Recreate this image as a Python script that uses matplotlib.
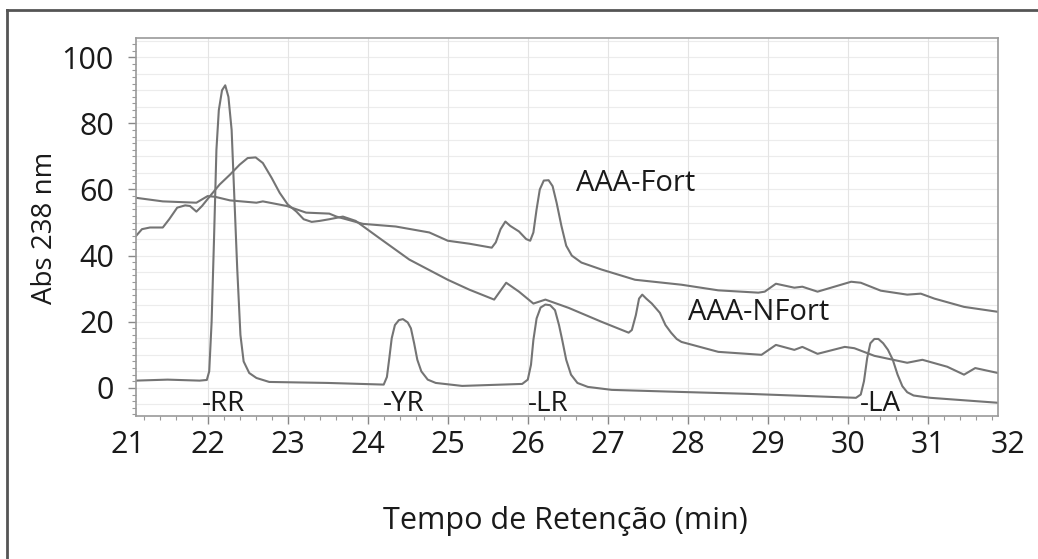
import numpy as np
import matplotlib.pyplot as plt
from matplotlib.ticker import MultipleLocator
from matplotlib.lines import Line2D

plt.rcParams['font.family'] = ['Open Sans', 'DejaVu Sans']

# padrões de microcistinas (RR, YR, LR, LA)
x_padrao = [21.1, 21.5, 21.9, 21.99, 22.02, 22.05, 22.08, 22.11, 22.14, 22.18, 22.22, 22.26,
            22.3, 22.33, 22.37, 22.41, 22.45, 22.52, 22.61, 22.77, 23.5, 24.2, 24.24, 24.27,
            24.3, 24.34, 24.39, 24.44, 24.5, 24.54, 24.58, 24.62, 24.67, 24.75, 24.85, 25.18,
            25.93, 26.0, 26.04, 26.07, 26.11, 26.16, 26.22, 26.28, 26.34, 26.39, 26.43, 26.48,
            26.54, 26.62, 26.75, 27.05, 27.88, 28.75, 30.1, 30.16, 30.2, 30.24, 30.28, 30.33,
            30.38, 30.44, 30.5, 30.56, 30.62, 30.68, 30.74, 30.82, 31.03, 31.875]
y_padrao = [2.2, 2.5, 2.2, 2.4, 5, 20, 45, 72, 84, 90, 91.5, 88,
            78, 60, 36, 16, 8, 4.5, 3, 1.8, 1.5, 1, 3.3, 9,
            15, 19, 20.5, 20.8, 19.8, 18, 13.5, 8.5, 5, 2.5, 1.5, 0.6,
            1.2, 2.5, 7, 14.5, 21, 24.3, 25.2, 25, 23.5, 19, 14.5, 8.5,
            4, 1.5, 0.3, -0.6, -1.2, -1.8, -3, -2, 2, 9, 13.5, 14.8,
            14.8, 13.5, 11.5, 8.5, 4, 0.5, -1.3, -2.3, -3, -4.5]

# amostra AAA-Fort
x_fort = [21.1, 21.44, 21.86, 22.0, 22.09, 22.28, 22.61, 22.69, 22.99, 23.23, 23.52, 23.61,
          23.94, 24.35, 24.77, 25.0, 25.27, 25.55, 25.6, 25.66, 25.72, 25.78, 25.89, 25.98,
          26.03, 26.07, 26.11, 26.15, 26.2, 26.26, 26.31, 26.36, 26.42, 26.48, 26.55, 26.67,
          26.92, 27.34, 27.92, 28.38, 28.88, 28.96, 29.1, 29.33, 29.43, 29.62, 29.83, 30.04,
          30.16, 30.41, 30.74, 30.91, 31.08, 31.45, 31.875]
y_fort = [57.5, 56.4, 56, 58, 57.8, 56.7, 56, 56.4, 55, 53, 52.7, 51.8,
          49.6, 48.8, 47, 44.5, 43.6, 42.4, 44, 48, 50.3, 49, 47.3, 45,
          44.5, 47, 54, 60, 62.7, 62.8, 61, 56, 49, 43, 40, 37.9,
          35.8, 32.7, 31.2, 29.5, 28.8, 29.1, 31.5, 30.3, 30.6, 29.1, 30.6, 32.1,
          31.8, 29.4, 28.2, 28.5, 27, 24.5, 23]

# amostra AAA-NFort
x_nfort = [21.1, 21.18, 21.28, 21.44, 21.52, 21.62, 21.72, 21.78, 21.86, 21.93, 22.03, 22.15,
           22.28, 22.4, 22.5, 22.6, 22.69, 22.8, 22.9, 23.0, 23.11, 23.2, 23.3, 23.4,
           23.52, 23.69, 23.85, 24.14, 24.52, 25.0, 25.27, 25.58, 25.73, 25.89, 26.07, 26.22,
           26.51, 26.92, 27.26, 27.3, 27.35, 27.39, 27.43, 27.48, 27.55, 27.65, 27.72, 27.79,
           27.86, 27.92, 28.38, 28.92, 29.1, 29.33, 29.43, 29.62, 29.96, 30.08, 30.33, 30.74,
           30.93, 31.24, 31.45, 31.59, 31.875]
y_nfort = [45.8, 48, 48.5, 48.5, 51, 54.5, 55.2, 55, 53.3, 55, 58, 61.5,
           64.5, 67.5, 69.5, 69.7, 68, 63.5, 59, 55.5, 53.3, 51, 50.2, 50.5,
           51, 51.8, 50.5, 45.4, 38.8, 32.7, 29.7, 26.7, 31.8, 29.1, 25.5, 26.7,
           24.2, 20, 16.7, 17.5, 22, 27, 28.2, 27, 25.5, 22.7, 19, 16.7,
           14.8, 13.9, 10.9, 10, 13, 11.5, 12.4, 10.3, 12.4, 12, 9.7, 7.6,
           8.5, 6.4, 4, 6, 4.5]

rotulos_picos = ['-RR', '-YR', '-LR', '-LA']
pos_picos = [22.2, 24.45, 26.25, 30.4]

cor = '#747474'
texto = '#1a1a1a'
fig = plt.figure(figsize=(10.38, 5.59), dpi=100)
ax = fig.add_axes([0.131, 0.2558, 0.8305, 0.6762])

for yy in np.arange(-5, 106, 5):
    ax.axhline(yy, color='#ececec', lw=0.8, zorder=0)
for xx in range(22, 32):
    ax.axvline(xx, color='#e4e4e4', lw=0.8, zorder=0)

ax.plot(x_padrao, y_padrao, color=cor, lw=1.5)
ax.plot(x_fort, y_fort, color=cor, lw=1.5)
ax.plot(x_nfort, y_nfort, color=cor, lw=1.5)

ax.set_xlim(21.105, 31.875)
ax.set_ylim(-8.5, 105.8)
ax.set_xticks(range(22, 32))
ax.set_yticks(range(0, 101, 20))
ax.xaxis.set_minor_locator(MultipleLocator(0.2))
ax.yaxis.set_minor_locator(MultipleLocator(2))
ax.tick_params(which='major', direction='out', length=6, width=1, color='#888888',
               labelsize=22, labelcolor=texto, pad=4)
ax.tick_params(which='minor', direction='out', length=3, width=0.8, color='#999999')
ax.tick_params(axis='y', which='major', pad=10)
for s in ax.spines.values():
    s.set_color('#9a9a9a')
    s.set_linewidth(1.2)

# rótulos 21 e 32 ficam fora dos limites do eixo
for v in (21, 32):
    ax.annotate(str(v), xy=(v, 0), xycoords=('data', 'axes fraction'),
                xytext=(0, -10), textcoords='offset points', ha='center', va='top',
                fontsize=22, color=texto, annotation_clip=False)

for r, p in zip(rotulos_picos, pos_picos):
    ax.text(p, -4.8, r, ha='center', va='center', fontsize=20, color=texto)
ax.text(26.6, 61.8, 'AAA-Fort', ha='left', va='center', fontsize=21, color=texto)
ax.text(28.0, 22.7, 'AAA-NFort', ha='left', va='center', fontsize=21, color=texto)

fig.text(45 / 1038, 1 - 228 / 559, 'Abs 238 nm', rotation=90, ha='center', va='center',
         fontsize=20, color=texto)
fig.text(565 / 1038, 1 - 521 / 559, 'Tempo de Retenção (min)', ha='center', va='center',
         fontsize=22, color=texto)

# moldura externa
fig.add_artist(Line2D([7 / 1038, 7 / 1038], [0, 1 - 10 / 559], color='#555555', lw=2))
fig.add_artist(Line2D([7 / 1038, 1], [1 - 10 / 559, 1 - 10 / 559], color='#555555', lw=2))

fig.savefig('out.png', dpi=100)
